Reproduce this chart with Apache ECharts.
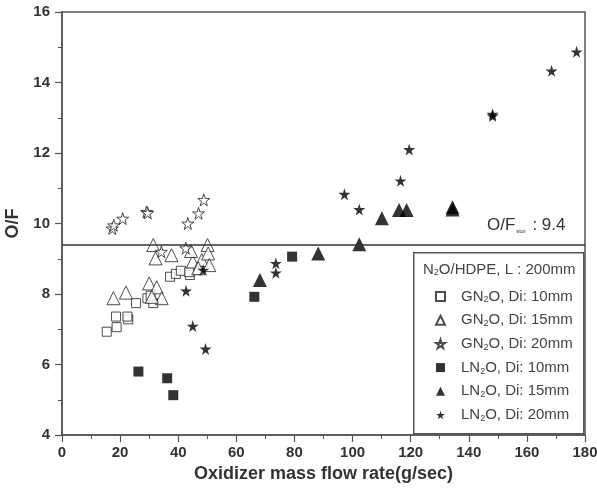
<!DOCTYPE html>
<html><head><meta charset="utf-8">
<script src="https://cdn.jsdelivr.net/npm/echarts@6/dist/echarts.min.js"></script>
<style>html,body{margin:0;padding:0;background:#fff}#c{width:597px;height:496px}</style>
</head><body><div id="c"></div>
<script>
// Data: [mass flow rate (g/s), O/F]
var gn10 = [[15.4,6.93],[18.8,7.06],[18.6,7.36],[22.8,7.28],[22.5,7.36],[25.5,7.74],[29.4,7.88],[31.4,7.74],[30.5,7.95],[37.2,8.49],[39.2,8.57],[40.9,8.66],[44.0,8.54],[46.9,8.68],[43.8,8.62]];
var gn15 = [[17.7,7.88],[22.0,8.04],[30.0,8.30],[32.6,8.19],[34.3,7.88],[30.9,7.92],[31.4,9.39],[32.2,9.01],[37.7,9.10],[45.0,8.92],[48.1,8.96],[50.1,9.39],[50.3,9.15],[50.7,8.82],[46.9,8.73],[44.4,9.22]];
var gn20 = [[17.3,9.86],[17.8,9.95],[20.9,10.14],[29.1,10.33],[29.5,10.30],[43.3,10.0],[47.0,10.29],[48.8,10.67],[34.2,9.20],[42.6,9.30]];
var ln10 = [[26.3,5.80],[36.2,5.61],[38.3,5.13],[66.2,7.92],[79.2,9.06]];
var ln15 = [[68.1,8.40],[88.2,9.15],[102.3,9.41],[110.1,10.15],[116.0,10.38],[118.6,10.38],[134.4,10.40],[134.4,10.46]];
var ln20 = [[177.1,14.87],[168.5,14.33],[148.2,13.05],[148.2,13.10],[119.5,12.10],[116.5,11.21],[97.2,10.83],[102.3,10.40],[73.6,8.87],[73.6,8.60],[48.6,8.68],[42.7,8.09],[45.0,7.09],[49.4,6.44]];
var seriesNames = ['GN{s|2}O, Di: 10mm','GN{s|2}O, Di: 15mm','GN{s|2}O, Di: 20mm','LN{s|2}O, Di: 10mm','LN{s|2}O, Di: 15mm','LN{s|2}O, Di: 20mm'];
var ofStoi = 9.4;
var xTicks = {min:0, max:180, interval:20};
var yTicks = {min:4, max:16, interval:2};

var STAR = 'path://M50,0 L61,35 L98,35 L68,57 L79,91 L50,70 L21,91 L32,57 L2,35 L39,35 Z';
var hollow = {color:'#fff', borderColor:'#222', borderWidth:1};
var filled = {color:'#000', borderColor:'#000', borderWidth:0};
var font = '"Liberation Sans", Arial, sans-serif';
var subRich = {s:{fontSize:9, padding:[7,0,0,0], fontFamily:font, color:'#444'}};

function mk(i, data, symbol, size, style, z){
  return {name: seriesNames[i], type:'scatter', data:data, symbol:symbol, symbolSize:size, itemStyle:style, z:z};
}
var series = [
  mk(0, gn10, 'rect', 9, hollow, 3),
  mk(1, gn15, 'triangle', 13, hollow, 3),
  mk(2, gn20, STAR, 12, hollow, 3),
  mk(3, ln10, 'rect', 10, filled, 4),
  mk(4, ln15, 'triangle', 14, filled, 4),
  mk(5, ln20, STAR, 12, filled, 4)
];
series[0].markLine = {silent:true, symbol:'none', label:{show:false}, lineStyle:{color:'#333', width:1.5, type:'solid'}, data:[{yAxis: ofStoi}]};

var chart = echarts.init(document.getElementById('c'));
chart.setOption({
  backgroundColor:'#fff',
  animation:false,
  grid:{left:62, right:12, top:12, bottom:61, show:true, borderColor:'#555', borderWidth:1.5, containLabel:false, outerBoundsMode:'none'},
  xAxis:{type:'value', min:xTicks.min, max:xTicks.max, interval:xTicks.interval,
    name:'Oxidizer mass flow rate(g/sec)', nameLocation:'middle', nameGap:28,
    nameTextStyle:{fontFamily:font, fontSize:18, fontWeight:'bold', color:'#333'},
    axisLine:{lineStyle:{color:'#555', width:1.5}},
    axisTick:{inside:false, length:7, lineStyle:{color:'#555', width:1.2}},
    minorTick:{show:true, splitNumber:2, length:4, lineStyle:{color:'#555', width:1}},
    splitLine:{show:false},
    axisLabel:{fontFamily:font, fontSize:15, fontWeight:'bold', color:'#333', margin:10}},
  yAxis:{type:'value', min:yTicks.min, max:yTicks.max, interval:yTicks.interval,
    name:'O/F', nameLocation:'middle', nameGap:40,
    nameTextStyle:{fontFamily:font, fontSize:18, fontWeight:'bold', color:'#333'},
    axisLine:{lineStyle:{color:'#555', width:1.5}},
    axisTick:{inside:false, length:7, lineStyle:{color:'#555', width:1.2}},
    minorTick:{show:true, splitNumber:2, length:4, lineStyle:{color:'#555', width:1}},
    splitLine:{show:false},
    axisLabel:{fontFamily:font, fontSize:15, fontWeight:'bold', color:'#333', margin:12}},
  legend:{orient:'vertical', left:430, top:284, itemWidth:9, itemHeight:9, itemGap:8.2,
    data: seriesNames.map(function(n){return {name:n};}),
    textStyle:{fontFamily:font, fontSize:15, color:'#444', padding:[0,0,0,11], rich:subRich},
    selectedMode:false},
  graphic:[
    {type:'rect', left:413, top:252, shape:{width:170, height:181}, style:{fill:'#fff', stroke:'#555', lineWidth:1.5}, z:1},
    {type:'text', left:423, top:262, style:{text:'N{s|2}O/HDPE, L : 200mm', fontFamily:font, fontSize:15, fill:'#444', rich:subRich}, z:10},
    {type:'text', left:487, top:217, style:{text:'O/F{t|stoi} : 9.4', fontFamily:font, fontSize:17, fill:'#333', rich:{t:{fontSize:6, padding:[11,2,0,1], fontFamily:font, fill:'#333'}}}, z:10}
  ],
  series: series
});
</script></body></html>
